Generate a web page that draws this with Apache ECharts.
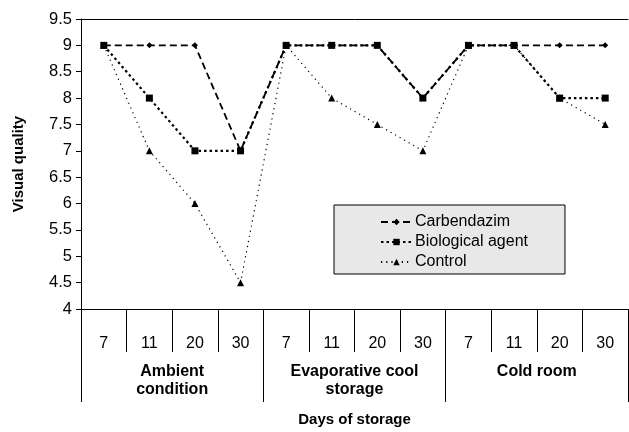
<!DOCTYPE html>
<html><head><meta charset="utf-8">
<script src="https://cdn.jsdelivr.net/npm/echarts@6/dist/echarts.min.js"></script>
<style>html,body{margin:0;padding:0;background:#fff}#c{width:629px;height:432px}</style>
</head><body><div id="c"></div>
<script>
const days = ['7','11','20','30','7','11','20','30','7','11','20','30'];
const groups = ['Ambient\ncondition','Evaporative cool\nstorage','Cold room'];
const carbendazim = [9,9,9,7, 9,9,9,8, 9,9,9,9];
const biological = [9,8,7,7, 9,9,9,8, 9,9,8,8];
const control = [9,7,6,4.5, 9,8,7.5,7, 9,9,8,7.5];
const yTicks = {min:4, max:9.5, interval:0.5};

const FONT = '"Liberation Sans", Arial, sans-serif';
const chart = echarts.init(document.getElementById('c'), null, {renderer:'canvas'});
chart.setOption({
  animation:false,
  textStyle:{fontFamily:FONT,color:'#000'},
  grid:{left:81,right:1,top:19,bottom:118,containLabel:false},
  legend:{
    orient:'vertical', left:334, top:205,
    backgroundColor:'#e8e8e8', borderColor:'#000', borderWidth:1,
    padding:[9,37,4,46], itemGap:4, itemWidth:31, itemHeight:8,
    textStyle:{fontFamily:FONT,fontSize:16,color:'#000',padding:[0,0,0,-2]},
    data:['Carbendazim','Biological agent','Control']
  },
  xAxis:[
    {type:'category',data:days,boundaryGap:true,position:'bottom',
     axisLine:{show:true,lineStyle:{color:'#000',width:1}},
     axisTick:{show:true,interval:0,length:43,lineStyle:{color:'#000'}},
     axisLabel:{interval:0,margin:27,fontSize:16,color:'#000',fontFamily:FONT},
     splitLine:{show:false}},
    {type:'category',data:groups,boundaryGap:true,position:'bottom',gridIndex:0,
     axisLine:{show:false},
     axisTick:{show:true,interval:0,length:93,lineStyle:{color:'#000'}},
     axisLabel:{interval:0,margin:54,fontSize:16,fontWeight:'bold',lineHeight:18,color:'#000',fontFamily:FONT},
     name:'Days of storage',nameLocation:'middle',nameGap:103,
     nameTextStyle:{fontSize:15,fontWeight:'bold',color:'#000',fontFamily:FONT},
     splitLine:{show:false}},
    {type:'category',data:days,position:'top',
     axisLine:{show:true,lineStyle:{color:'#000',width:1}},
     axisTick:{show:false},axisLabel:{show:false},splitLine:{show:false}}
  ],
  yAxis:{type:'value',min:yTicks.min,max:yTicks.max,interval:yTicks.interval,
    axisLine:{show:true,lineStyle:{color:'#000',width:1}},
    axisTick:{show:true,length:5,lineStyle:{color:'#000'}},
    axisLabel:{fontSize:16.5,color:'#000',margin:9,fontFamily:FONT},
    splitLine:{show:false},
    name:'Visual quality',nameLocation:'middle',nameGap:55,nameRotate:90,
    nameTextStyle:{fontSize:15,fontWeight:'bold',color:'#000',fontFamily:FONT}},
  series:[
    {name:'Carbendazim',type:'line',data:carbendazim,symbol:'diamond',symbolSize:6,
     lineStyle:{color:'#000',width:1.8,type:[7,4]},itemStyle:{color:'#000'},z:2},
    {name:'Control',type:'line',data:control,symbol:'triangle',symbolSize:7,
     lineStyle:{color:'#000',width:1.2,type:[1.2,4]},itemStyle:{color:'#000'},z:3},
    {name:'Biological agent',type:'line',data:biological,symbol:'rect',symbolSize:7,
     lineStyle:{color:'#000',width:2.2,type:[2.5,3]},itemStyle:{color:'#000'},z:4}
  ]
});
</script></body></html>
